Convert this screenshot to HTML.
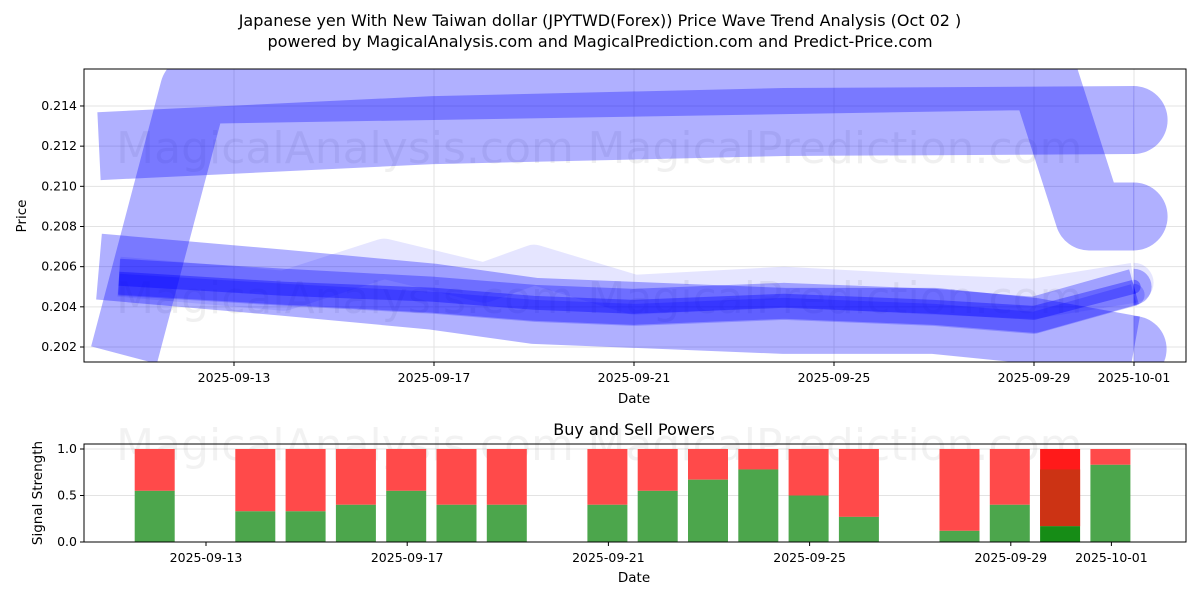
<!DOCTYPE html>
<html><head><meta charset="utf-8"><style>
body{margin:0;background:#fff;font-family:"Liberation Sans","DejaVu Sans",sans-serif}
svg text{font-family:"DejaVu Sans","Liberation Sans",sans-serif}
</style></head><body>
<svg id="c" width="1200" height="600" xmlns="http://www.w3.org/2000/svg">
<text x="600" y="26" font-size="16" text-anchor="middle">Japanese yen With New Taiwan dollar (JPYTWD(Forex)) Price Wave Trend Analysis (Oct 02 )</text>
<text x="600" y="47" font-size="16" text-anchor="middle">powered by MagicalAnalysis.com and MagicalPrediction.com and Predict-Price.com</text>
<defs><clipPath id="cp1"><rect x="84" y="69" width="1102" height="293"/></clipPath>
<clipPath id="cp2"><rect x="84" y="444" width="1102" height="98"/></clipPath></defs>
<g id="topPanel"></g>
<g id="botPanel"></g>
</svg>
<script>
// ---- price wave data (day offset from 2025-09-10, price) ----
const waveADays=[0.8,2.2,19.2,20.1,21];
const waveAVals=[0.2016,0.2148,0.2155,0.2085,0.2085];
const waveBDays=[0.3,7,14,21];
const waveBVals=[0.2120,0.2128,0.2132,0.2133];
const waveCDays=[0.3,4,7,9,11,14,17,19,21];
const waveCVals=[0.2060,0.2052,0.2045,0.2038,0.2036,0.2033,0.2033,0.2028,0.2019];
const waveDDays=[0.7,4,7,9,11,14,17,19,21];
const waveDVals=[0.2055,0.2050,0.2046,0.2042,0.2040,0.2043,0.2040,0.2036,0.2050];
const waveEDays=[0.7,4,7,9,11,14,17,19,21];
const waveEVals=[0.2054,0.2049,0.2046,0.2042,0.2040,0.2043,0.2040,0.2037,0.2050];
const waveFDays=[0.7,4,6,8,9,11,14,17,19,21];
const waveFVals=[0.2055,0.2048,0.2064,0.2052,0.2061,0.2046,0.2050,0.2046,0.2044,0.2052];
const yTicks=[0.202,0.204,0.206,0.208,0.210,0.212,0.214];
const xTickLabels=["2025-09-13","2025-09-17","2025-09-21","2025-09-25","2025-09-29","2025-10-01"];
const xTickDays=[3,7,11,15,19,21];
// ---- signal data ----
const barDays=[2,4,5,6,7,8,9,11,12,13,14,15,16,18,19,20,21];
const buyVals=[0.55,0.33,0.33,0.40,0.55,0.40,0.40,0.40,0.55,0.67,0.78,0.50,0.27,0.12,0.40,0.17,0.83];
const sigTicks=[0,0.5,1.0];

const NS="http://www.w3.org/2000/svg";
function mk(tag,a,p){const e=document.createElementNS(NS,tag);for(const k in a)e.setAttribute(k,a[k]);p.appendChild(e);return e;}
const topG=document.getElementById('topPanel'),botG=document.getElementById('botPanel');
const X=d=>84+d*50, Y=v=>347-(v-0.202)/0.002*40.17;
const XB=d=>206+(d-3)*50.3, YB=v=>542-v*93;

yTicks.forEach(v=>{const l=mk('line',{x1:84,x2:1186,y1:Y(v),y2:Y(v),stroke:'#e3e3e3'},topG);

});
xTickDays.forEach(d=>{const l=mk('line',{x1:X(d),x2:X(d),y1:69,y2:362,stroke:'#e3e3e3'},topG);

});
[[345,163,'MagicalAnalysis.com'],[835,163,'MagicalPrediction.com'],[345,313,'MagicalAnalysis.com'],[835,313,'MagicalPrediction.com']].forEach(w=>{
const tx=mk('text',{x:w[0],y:w[1],'font-size':44,'text-anchor':'middle',fill:'rgba(0,0,0,0.06)'},topG);tx.textContent=w[2];

});
const gw=mk('g',{'clip-path':'url(#cp1)'},topG);
function wave(days,vals,w,op,name){
 const pts=days.map((d,i)=>X(d)+','+Y(vals[i])).join(' ');
 const p=mk('polyline',{points:pts,fill:'none',stroke:'#0000ff','stroke-opacity':op,'stroke-width':w,'stroke-linejoin':'round'},gw);
 
 
 const n=days.length-1;const cx=X(days[n])-0.4;
 const c=mk('path',{d:'M'+cx+' '+(Y(vals[n])-w/2)+' a'+(w/2)+' '+(w/2)+' 0 0 1 0 '+w+'Z',fill:'#0000ff','fill-opacity':op},gw);
 
 
}
wave(waveADays,waveAVals,68,0.31,'wave-a');
wave(waveBDays,waveBVals,68,0.31,'wave-b');
wave(waveCDays,waveCVals,66,0.31,'wave-c');
wave(waveFDays,waveFVals,40,0.1,'wave-f');
wave(waveDDays,waveDVals,36,0.3,'wave-d');
wave(waveDDays,waveDVals.map(v=>v-0.0004),22,0.22,'wave-d2');
wave(waveEDays,waveEVals,14,0.35,'wave-e');
const f1=mk('rect',{x:84,y:69,width:1102,height:293,fill:'none',stroke:'#000'},topG);


yTicks.forEach(v=>{mk('line',{x1:80,x2:84,y1:Y(v),y2:Y(v),stroke:'#000'},topG);
const tx=mk('text',{x:77,y:Y(v)+4,'font-size':12.5,'text-anchor':'end'},topG);tx.textContent=v.toFixed(3);

});
xTickDays.forEach((d,i)=>{mk('line',{x1:X(d),x2:X(d),y1:362,y2:366,stroke:'#000'},topG);
const tx=mk('text',{x:X(d),y:382,'font-size':12.5,'text-anchor':'middle'},topG);tx.textContent=xTickLabels[i];

});
let tt=mk('text',{x:634,y:403,'font-size':13.5,'text-anchor':'middle'},topG);tt.textContent='Date';


tt=mk('text',{x:26,y:216,'font-size':13.5,'text-anchor':'middle',transform:'rotate(-90 26 216)'},topG);tt.textContent='Price';



tt=mk('text',{x:634,y:435,'font-size':16,'text-anchor':'middle'},botG);tt.textContent='Buy and Sell Powers';


sigTicks.forEach(v=>{const l=mk('line',{x1:84,x2:1186,y1:YB(v),y2:YB(v),stroke:'#e3e3e3'},botG);

});
[[345,460,'MagicalAnalysis.com'],[835,460,'MagicalPrediction.com']].forEach(w=>{
const tx=mk('text',{x:w[0],y:w[1],'font-size':44,'text-anchor':'middle',fill:'rgba(0,0,0,0.05)'},botG);tx.textContent=w[2];

});
const gb=mk('g',{'clip-path':'url(#cp2)'},botG);
barDays.forEach((d,i)=>{const b=buyVals[i],x=XB(d)-21;
 const special=(d===20);
 const r=mk('rect',{x:x,y:YB(1),width:40,height:YB(b)-YB(1),fill:special?'#ff1a1a':'#ff4a4a'},gb);
 
 
 if(special){const m=mk('rect',{x:x,y:YB(0.78),width:40,height:YB(b)-YB(0.78),fill:'#cc3314'},gb);
  
  }
 const gr=mk('rect',{x:x,y:YB(b),width:40,height:YB(0)-YB(b),fill:special?'#168c16':'#4ca64c'},gb);
 
 });
const f2=mk('rect',{x:84,y:444,width:1102,height:98,fill:'none',stroke:'#000'},botG);


sigTicks.forEach(v=>{mk('line',{x1:80,x2:84,y1:YB(v),y2:YB(v),stroke:'#000'},botG);
const tx=mk('text',{x:77,y:YB(v)+4,'font-size':12.5,'text-anchor':'end'},botG);tx.textContent=v.toFixed(1);

});
xTickDays.forEach((d,i)=>{mk('line',{x1:XB(d),x2:XB(d),y1:542,y2:546,stroke:'#000'},botG);
const tx=mk('text',{x:XB(d),y:562,'font-size':12.5,'text-anchor':'middle'},botG);tx.textContent=xTickLabels[i];

});
tt=mk('text',{x:634,y:582,'font-size':13.5,'text-anchor':'middle'},botG);tt.textContent='Date';


tt=mk('text',{x:42,y:493,'font-size':13.5,'text-anchor':'middle',transform:'rotate(-90 42 493)'},botG);tt.textContent='Signal Strength';


</script>
</body></html>
